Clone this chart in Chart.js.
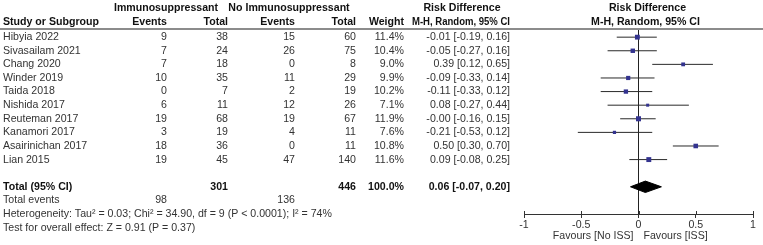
<!DOCTYPE html>
<html>
<head>
<meta charset="utf-8">
<script src="https://cdn.jsdelivr.net/npm/chart.js@4.4.0/dist/chart.umd.min.js"></script>
<style>
  html, body { margin: 0; padding: 0; background: #fff; }
  #wrap { width: 763px; height: 245px; }
</style>
</head>
<body>
<div id="wrap"><canvas id="forest"></canvas></div>
<script>
// study data (risk difference, random effects)
const studies = ['Hibyia 2022', 'Sivasailam 2021', 'Chang 2020', 'Winder 2019', 'Taida 2018',
  'Nishida 2017', 'Reuteman 2017', 'Kanamori 2017', 'Asairinichan 2017', 'Lian 2015'];
const issEvents = [9, 7, 7, 10, 0, 6, 19, 3, 18, 19];
const issTotal = [38, 24, 18, 35, 7, 11, 68, 19, 36, 45];
const noIssEvents = [15, 26, 0, 11, 2, 12, 19, 4, 0, 47];
const noIssTotal = [60, 75, 8, 29, 19, 26, 67, 11, 11, 140];
const weights = [11.4, 10.4, 9.0, 9.9, 10.2, 7.1, 11.9, 7.6, 10.8, 11.6];
const rd = [-0.01, -0.05, 0.39, -0.09, -0.11, 0.08, -0.00, -0.21, 0.50, 0.09];
const ciLow = [-0.19, -0.27, 0.12, -0.33, -0.33, -0.27, -0.16, -0.53, 0.30, -0.08];
const ciHigh = [0.16, 0.16, 0.65, 0.14, 0.12, 0.44, 0.15, 0.12, 0.70, 0.25];

// pooled result
const pooled = [0.06, -0.07, 0.20]; // estimate, low, high
const totalIss = 301, totalNoIss = 446, totalWeight = 100.0;
const totalEventsIss = 98, totalEventsNoIss = 136;
const heterogeneity = 'Heterogeneity: Tau\u00b2 = 0.03; Chi\u00b2 = 34.90, df = 9 (P < 0.0001); I\u00b2 = 74%';
const overallTest = 'Test for overall effect: Z = 0.91 (P = 0.37)';

// axis
const xTicks = [-1, -0.5, 0, 0.5, 1];
const xTickLabels = ['-1', '-0.5', '0', '0.5', '1'];
const favoursLeft = 'Favours [No ISS]';
const favoursRight = 'Favours [ISS]';

const totalRow = studies.length + 1;
const FONT = '"Liberation Sans", Arial, sans-serif';
const fmt = v => ((v < 0 || Object.is(v, -0)) ? '-' : '') + Math.abs(v).toFixed(2);
const ciText = (e, l, h) => fmt(e) + ' [' + fmt(l) + ', ' + fmt(h) + ']';

// columns (right edges)
const col = { events1: 167, total1: 228, events2: 295, total2: 356, weight: 404, ci: 510 };

const tablePlugin = {
  id: 'forestTable',
  afterDraw(chart) {
    const ctx = chart.ctx;
    const y = chart.scales.y;
    const x = chart.scales.x;
    const area = chart.chartArea;
    ctx.save();

    // header rule
    ctx.strokeStyle = '#8c8c8c';
    ctx.lineWidth = 2;
    ctx.beginPath();
    ctx.moveTo(0, area.top);
    ctx.lineTo(763, area.top);
    ctx.stroke();

    // tick marks also poke above the axis
    ctx.strokeStyle = '#333';
    ctx.lineWidth = 1;
    xTicks.forEach(v => {
      const px = Math.round(x.getPixelForValue(v)) + 0.5;
      ctx.beginPath();
      ctx.moveTo(px, area.bottom - 3);
      ctx.lineTo(px, area.bottom);
      ctx.stroke();
    });

    const text = (s, px, py, align, bold, maxW) => {
      ctx.font = (bold ? 'bold ' : '') + '10.6px ' + FONT;
      ctx.fillStyle = bold ? '#111' : '#333';
      ctx.textAlign = align;
      ctx.textBaseline = 'middle';
      if (maxW) ctx.fillText(s, px, py, maxW);
      else ctx.fillText(s, px, py);
    };

    // headers
    const h1 = area.top - 21, h2 = area.top - 7;
    const mid0 = x.getPixelForValue(0) + 9;
    text('Immunosuppressant', 166, h1, 'center', true, 104);
    text('No Immunosuppressant', 289, h1, 'center', true);
    text('Risk Difference', 462, h1, 'center', true);
    text('Risk Difference', mid0, h1, 'center', true);
    text('Study or Subgroup', 3, h2, 'left', true);
    text('Events', col.events1, h2, 'right', true);
    text('Total', col.total1, h2, 'right', true);
    text('Events', col.events2, h2, 'right', true);
    text('Total', col.total2, h2, 'right', true);
    text('Weight', col.weight, h2, 'right', true);
    text('M-H, Random, 95% CI', col.ci, h2, 'right', true, 98);
    text('M-H, Random, 95% CI', mid0 - 2, h2, 'center', true);

    // study rows
    studies.forEach((name, i) => {
      const py = y.getPixelForValue(i);
      text(name, 3, py, 'left');
      text(String(issEvents[i]), col.events1, py, 'right');
      text(String(issTotal[i]), col.total1, py, 'right');
      text(String(noIssEvents[i]), col.events2, py, 'right');
      text(String(noIssTotal[i]), col.total2, py, 'right');
      text(weights[i].toFixed(1) + '%', col.weight, py, 'right');
      text(ciText(rd[i], ciLow[i], ciHigh[i]), col.ci, py, 'right');
    });

    // totals
    const ty = y.getPixelForValue(totalRow);
    text('Total (95% CI)', 3, ty, 'left', true);
    text(String(totalIss), col.total1, ty, 'right', true);
    text(String(totalNoIss), col.total2, ty, 'right', true);
    text(totalWeight.toFixed(1) + '%', col.weight, ty, 'right', true);
    text(ciText(pooled[0], pooled[1], pooled[2]), col.ci, ty, 'right', true);

    const ey = y.getPixelForValue(totalRow + 1);
    text('Total events', 3, ey, 'left');
    text(String(totalEventsIss), col.events1, ey, 'right');
    text(String(totalEventsNoIss), col.events2, ey, 'right');
    text(heterogeneity, 3, y.getPixelForValue(totalRow + 2), 'left');
    text(overallTest, 3, y.getPixelForValue(totalRow + 3), 'left');

    // favours labels
    const zx = x.getPixelForValue(0);
    text(favoursLeft, zx - 5, area.bottom + 22, 'right');
    text(favoursRight, zx + 5, area.bottom + 22, 'left');

    ctx.restore();
  }
};

const ciSets = studies.map((s, i) => ({
  type: 'line',
  data: [{ x: ciLow[i], y: i }, { x: ciHigh[i], y: i }],
  borderColor: '#2a2a2a',
  borderWidth: 1,
  pointRadius: 0,
  fill: false
}));

const dh = 0.42; // diamond half height, in row units

new Chart(document.getElementById('forest'), {
  type: 'scatter',
  data: {
    datasets: [
      {
        type: 'scatter',
        data: rd.map((v, i) => ({ x: v, y: i })),
        pointStyle: 'rect',
        pointRadius: c => 0.3 * weights[c.dataIndex],
        backgroundColor: '#33338f',
        borderWidth: 0
      },
      ...ciSets,
      {
        type: 'line',
        data: [
          { x: pooled[1], y: totalRow },
          { x: pooled[0], y: totalRow - dh },
          { x: pooled[2], y: totalRow },
          { x: pooled[0], y: totalRow + dh },
          { x: pooled[1], y: totalRow }
        ],
        borderColor: '#000',
        backgroundColor: '#000',
        borderWidth: 1,
        pointRadius: 0,
        tension: 0,
        fill: 'shape'
      }
    ]
  },
  options: {
    responsive: true,
    maintainAspectRatio: false,
    animation: false,
    devicePixelRatio: 1,
    layout: { padding: { left: 524, right: 10, top: 29, bottom: 0 } },
    plugins: { legend: { display: false }, tooltip: { enabled: false } },
    scales: {
      x: {
        type: 'linear',
        min: -1,
        max: 1,
        afterBuildTicks: s => { s.ticks = xTicks.map(v => ({ value: v })); },
        afterFit: s => { s.height = 31; },
        ticks: {
          callback: (v, i) => xTickLabels[i],
          font: { family: FONT, size: 10.6 },
          color: '#333',
          padding: 1,
          maxRotation: 0,
          autoSkip: false
        },
        grid: {
          color: c => (c.tick && c.tick.value === 0) ? '#222' : 'rgba(0,0,0,0)',
          tickColor: '#333',
          tickLength: 4
        },
        border: { display: true, color: '#333', width: 1 }
      },
      y: {
        type: 'linear',
        display: false,
        reverse: true,
        min: -0.6,
        max: 13
      }
    }
  },
  plugins: [tablePlugin]
});
</script>
</body>
</html>
